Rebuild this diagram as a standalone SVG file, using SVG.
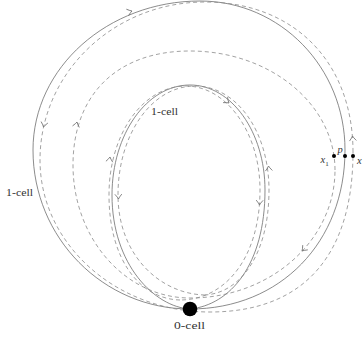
<svg xmlns="http://www.w3.org/2000/svg" width="364" height="339" viewBox="0 0 364 339">
<defs>
<style>
.s{fill:none;stroke:#6e6e6e;stroke-width:0.8}
.d{fill:none;stroke:#8a8a8a;stroke-width:0.8;stroke-dasharray:4 3}
.ar{fill:none;stroke:#6e6e6e;stroke-width:0.8;stroke-linecap:round}
.t{font-family:"Liberation Serif","DejaVu Serif",serif;font-size:10.5px;fill:#333}
.m{font-style:italic}
</style>
<path id="ah" d="M-4.5,-3.2 Q-1.5,-0.6 0,0 Q-1.5,0.6 -4.5,3.2"/>
</defs>
<rect width="364" height="339" fill="#fff"/>
<g id="connectors">
  <path id="cell-a" class="s" d="M190,309 C103.3,309 33,237.8 33,150 C33,67.7 107.8,1 200,1 C280.6,1 345,67.7 345,150 C345,242 280.5,309 190,309 Z"/>
  <path id="cell-b" class="s" d="M190,309 C155,307 112,265 112,195 C112,134.2 146.9,85 190,85 C231.4,85 265,132 265,190 C265,265 230,305 190,309 Z"/>
  <path id="loop-x" class="d" d="M353,152 C353,62 293.8,2 205,2 C113.9,2 40,72.7 40,160 C40,244 116.1,312 210,312 C303,312 353,256 353,152 Z"/>
  <path id="loop-x1" class="d" d="M335,170 C335,104.3 270.1,51 190,51 C117.5,51 73,94.3 73,165 C73,238.5 125.4,298 190,298 C270.1,298 335,240.7 335,170 Z"/>
  <path id="loop-b1" class="d" d="M180,300 C140,299 109,260 109,195 C109,134 143,86 186,86 C226,86 260,132 260,190 C260,258 225,300 180,300 Z"/>
  <path id="loop-b2" class="d" d="M205,295 C160,294 118,255 118,195 C118,134 152,86 195,86 C237,86 269,132 269,190 C269,255 240,293 205,295 Z"/>
  <g class="ar">
    <use href="#ah" transform="translate(132,11) rotate(-18)"/>
    <use href="#ah" transform="translate(229,103) rotate(39.5)"/>
    <use href="#ah" transform="translate(352.5,136) rotate(-95)"/>
    <use href="#ah" transform="translate(43.5,127) rotate(102)"/>
    <use href="#ah" transform="translate(77,122) rotate(-77)"/>
    <use href="#ah" transform="translate(302,251) rotate(133)"/>
    <use href="#ah" transform="translate(110,157) rotate(-82)"/>
    <use href="#ah" transform="translate(259.5,205) rotate(92)"/>
    <use href="#ah" transform="translate(268.5,166) rotate(-95)"/>
    <use href="#ah" transform="translate(118.5,199) rotate(88)"/>
  </g>
</g>
<g id="label-outer-1cell"><text class="t" x="6" y="196" textLength="27" lengthAdjust="spacingAndGlyphs">1-cell</text></g>
<g id="label-inner-1cell"><text class="t" x="151" y="115" textLength="27" lengthAdjust="spacingAndGlyphs">1-cell</text></g>
<g id="node-0cell">
  <circle cx="190" cy="309" r="7.3" fill="#000"/>
  <text class="t" x="174" y="329" textLength="31" lengthAdjust="spacingAndGlyphs">0-cell</text>
</g>
<g id="node-x1">
  <circle cx="334" cy="156" r="2" fill="#000"/>
  <text class="t m" x="320.5" y="163" font-size="10">x<tspan font-size="7" font-style="normal" dy="2.5">1</tspan></text>
</g>
<g id="node-p">
  <circle cx="345" cy="156" r="2" fill="#000"/>
  <text class="t m" x="337.5" y="153" font-size="10">p</text>
</g>
<g id="node-x">
  <circle cx="353" cy="156" r="2" fill="#000"/>
  <text class="t m" x="357" y="164" font-size="10">x</text>
</g>
</svg>
